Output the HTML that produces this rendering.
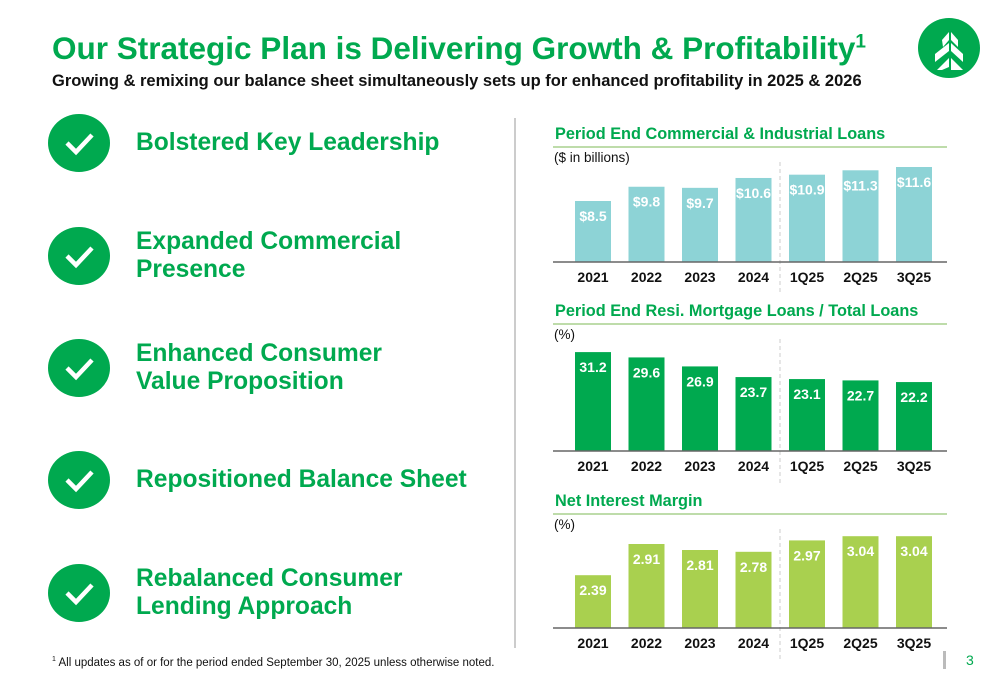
<!DOCTYPE html>
<html><head><meta charset="utf-8"><style>
body{margin:0;width:1000px;height:685px;background:#fff;font-family:"Liberation Sans",Arial,sans-serif;position:relative;overflow:hidden}
.abs{position:absolute}
h1{position:absolute;left:52px;top:30px;margin:0;font-size:31.5px;font-weight:bold;color:#00a94f;white-space:nowrap}
h1 sup{font-size:19px}
.sub{left:52px;top:72px;font-size:16.5px;font-weight:bold;color:#111;white-space:nowrap}
.item{position:absolute;left:136px;font-size:24.6px;font-weight:bold;color:#00a94f;line-height:28px;white-space:nowrap}
.chk{position:absolute;left:48px;width:62px;height:58px;border-radius:50%;background:#00a94f}
</style></head><body>
<h1>Our Strategic Plan is Delivering Growth &amp; Profitability<sup>1</sup></h1>
<div class="abs sub">Growing &amp; remixing our balance sheet simultaneously sets up for enhanced profitability in 2025 &amp; 2026</div>
<svg class="abs" style="left:918px;top:18px" width="62" height="60"><ellipse cx="31" cy="30" rx="31" ry="30" fill="#00a94f"/><polygon points="24,22 31,14 31,22 25,29" fill="#fff"/><polygon points="33,14 40,22 40,29 33,22" fill="#fff"/><polygon points="17,36 31,25 31,33 17,44" fill="#fff"/><polygon points="33,25 45,36 45,44 33,33" fill="#fff"/><polygon points="19,52 31,40 31,49 24,52" fill="#fff"/><polygon points="33,40 45,52 33,52" fill="#fff"/></svg>

<div id="left"></div>
<div class="abs" style="left:514px;top:118px;width:2px;height:530px;background:#ccc"></div>

<svg id="charts" class="abs" style="left:0;top:0" width="1000" height="685"></svg>

<div class="abs" style="left:52px;top:656px;font-size:11.5px;color:#111;white-space:nowrap"><sup style="font-size:7px">1</sup> All updates as of or for the period ended September 30, 2025 unless otherwise noted.</div>
<div class="abs" style="left:943px;top:651px;width:3px;height:18px;background:#bbb"></div>
<div class="abs" style="left:966px;top:652px;font-size:14px;color:#00a94f">3</div>

<script>
const items=[["Bolstered Key Leadership",143],["Expanded Commercial<br>Presence",256],["Enhanced Consumer<br>Value Proposition",368],["Repositioned Balance Sheet",480],["Rebalanced Consumer<br>Lending Approach",593]];
const L=document.getElementById('left');
items.forEach(([t,y])=>{
 const c=document.createElement('div');c.className='chk';c.style.top=(y-29)+'px';
 
 
 c.innerHTML='<svg width="62" height="58"><polyline points="19,29 28,38 44,21" fill="none" stroke="#fff" stroke-width="4.5"/></svg>';
 L.appendChild(c);
 const d=document.createElement('div');d.className='item';d.innerHTML=t;
 const lines=t.split('<br>').length;d.style.top=(y-14*lines)+'px';
 
 
 L.appendChild(d);
});

const categories=["2021","2022","2023","2024","1Q25","2Q25","3Q25"];
const ciValues=[8.5,9.8,9.7,10.6,10.9,11.3,11.6];
const ciLabels=["$8.5","$9.8","$9.7","$10.6","$10.9","$11.3","$11.6"];
const resiValues=[31.2,29.6,26.9,23.7,23.1,22.7,22.2];
const resiLabels=["31.2","29.6","26.9","23.7","23.1","22.7","22.2"];
const nimValues=[2.39,2.91,2.81,2.78,2.97,3.04,3.04];
const nimLabels=["2.39","2.91","2.81","2.78","2.97","3.04","3.04"];

const S=document.getElementById('charts');const NS='http://www.w3.org/2000/svg';
function el(tag,a,txt){const e=document.createElementNS(NS,tag);for(const k in a)e.setAttribute(k,a[k]);if(txt!=null)e.textContent=txt;S.appendChild(e);return e;}
function chart(o){
 const t=el('text',{x:555,y:o.top+17,'font-size':16.3,'font-weight':'bold',fill:'#00a94f'},o.title);
 
 
 el('line',{x1:553,x2:947,y1:o.top+25,y2:o.top+25,stroke:'#a8d08d','stroke-width':1.5});
 const u=el('text',{x:554,y:o.top+40,'font-size':13.5,fill:'#111'},o.unit);
 
 
 const base=o.base;
 const yS=v=>base-(v-o.min)*o.scale;
 const xS=i=>575+i*53.5;
 el('line',{x1:780,x2:780,y1:o.top+40,y2:base+32,stroke:'#ccc','stroke-dasharray':'4,3'});
 o.values.forEach((v,i)=>{
  const y=yS(v);
  const r=el('rect',{x:xS(i),y:y,width:36,height:base-y,fill:o.color});
  
  
  const l=el('text',{x:xS(i)+18,y:y+20,'font-size':14,'font-weight':'bold',fill:'#fff','text-anchor':'middle'},o.labels[i]);
  
  
  const c=el('text',{x:xS(i)+18,y:base+20,'font-size':14,'font-weight':'bold',fill:'#111','text-anchor':'middle'},categories[i]);
  
  
 });
 el('line',{x1:553,x2:947,y1:base,y2:base,stroke:'#666','stroke-width':1.5});
}
chart({top:122,title:"Period End Commercial & Industrial Loans",unit:"($ in billions)",values:ciValues,labels:ciLabels,base:262,min:2.94,scale:10.97,color:"#8dd3d6"});
chart({top:299,title:"Period End Resi. Mortgage Loans / Total Loans",unit:"(%)",values:resiValues,labels:resiLabels,base:451,min:1.5,scale:3.33,color:"#00a94f"});
chart({top:489,title:"Net Interest Margin",unit:"(%)",values:nimValues,labels:nimLabels,base:628,min:1.51,scale:60,color:"#a9d04f"});
</script>
</body></html>
